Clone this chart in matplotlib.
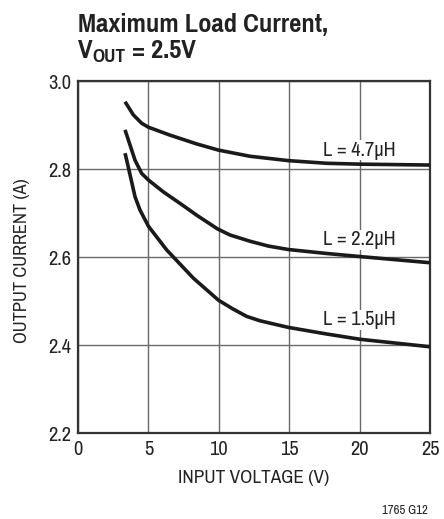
import matplotlib
matplotlib.use("Agg")
import matplotlib.pyplot as plt

FONT = ["Pragati Narrow", "Roboto Condensed", "DejaVu Sans"]
plt.rcParams['font.family'] = FONT

vin_47 = [3.34, 3.93, 4.52, 5.0, 6.53, 8.43, 9.97, 12.2, 14.94, 17.66, 20.03, 25.0]
iout_47 = [2.953, 2.923, 2.904, 2.895, 2.877, 2.857, 2.843, 2.829, 2.819, 2.813, 2.811, 2.809]
vin_22 = [3.34, 4.05, 4.52, 5.0, 6.06, 7.24, 8.43, 9.90, 10.8, 12.2, 13.5, 14.94, 17.66, 20.03, 25.0]
iout_22 = [2.889, 2.820, 2.790, 2.775, 2.748, 2.722, 2.695, 2.664, 2.650, 2.636, 2.625, 2.617, 2.608, 2.601, 2.587]
vin_15 = [3.34, 3.46, 4.05, 4.40, 5.0, 6.3, 8.19, 9.97, 11.0, 11.98, 12.93, 14.94, 17.66, 20.03, 25.0]
iout_15 = [2.836, 2.820, 2.737, 2.707, 2.670, 2.616, 2.552, 2.502, 2.482, 2.465, 2.455, 2.440, 2.425, 2.413, 2.396]
labels = ["L = 4.7µH", "L = 2.2µH", "L = 1.5µH"]
label_y = [2.843, 2.639, 2.457]
label_x = 19.96
xticks = [0, 5, 10, 15, 20, 25]
yticks = [2.2, 2.4, 2.6, 2.8, 3.0]

fig = plt.figure(figsize=(4.44, 5.19), dpi=100)
W, H = 444, 519
ax = fig.add_axes([78 / W, 1 - 433 / H, 352 / W, 352 / H])
ax.set_xlim(0, 25)
ax.set_ylim(2.2, 3.0)
ax.set_xticks(xticks)
ax.set_yticks(yticks)
ax.set_yticklabels([f"{v:.1f}" for v in yticks])
ax.grid(True, color="#6a6a6a", linewidth=1.0)
ax.set_axisbelow(True)
ax.tick_params(length=0, labelsize=16, pad=5, colors="#222222")
for s in ax.spines.values():
    s.set_linewidth(1.6)
    s.set_color("#333333")

for x, y in [(vin_47, iout_47), (vin_22, iout_22), (vin_15, iout_15)]:
    ax.plot(x, y, color="#1a1a1a", linewidth=2.6, solid_capstyle="butt",
            solid_joinstyle="round", zorder=3)

for lab, ly in zip(labels, label_y):
    ax.text(label_x, ly, lab, ha="center", va="center", fontsize=16, color="#222222",
            bbox=dict(facecolor="white", edgecolor="none", pad=0.5), zorder=2)

ax.set_xlabel("INPUT VOLTAGE (V)", fontsize=15, color="#222222", labelpad=8)
ax.set_ylabel("OUTPUT CURRENT (A)", fontsize=14.5, color="#222222")
ax.yaxis.set_label_coords(-0.135, 0.49)

# Title
fig.text(78 / W, 1 - 24 / H, "Maximum Load Current,", fontsize=20.8, fontweight="bold",
         ha="left", va="center", color="#222222")
renderer = fig.canvas.get_renderer()
t1 = fig.text(78 / W, 1 - 50 / H, "V", fontsize=20.8, fontweight="bold",
              ha="left", va="center", color="#222222")
bb = t1.get_window_extent(renderer)
t2 = fig.text(bb.x1 / W, 1 - 57 / H, "OUT", fontsize=15, fontweight="bold",
              ha="left", va="center", color="#222222")
bb2 = t2.get_window_extent(renderer)
fig.text(bb2.x1 / W, 1 - 50 / H, " = 2.5V", fontsize=20.8, fontweight="bold",
         ha="left", va="center", color="#222222")

fig.text(428 / W, 1 - 510 / H, "1765 G12", fontsize=10, ha="right", va="center", color="#222222")

fig.savefig("out.png", dpi=100)
